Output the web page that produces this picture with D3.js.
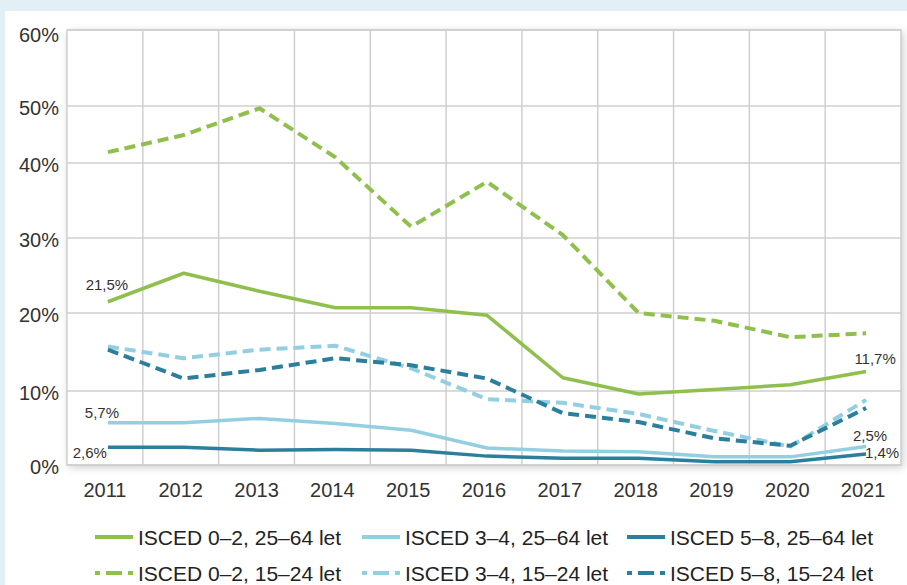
<!DOCTYPE html>
<html>
<head>
<meta charset="utf-8">
<script src="https://cdn.jsdelivr.net/npm/d3@7"></script>
<style>
  body { margin: 0; background: #e2f0f6; }
  svg { display: block; font-family: Arial, "Liberation Sans", sans-serif; }
</style>
</head>
<body>
<svg id="chart" width="907" height="585"></svg>
<script>
// data (%)
var years = [2011, 2012, 2013, 2014, 2015, 2016, 2017, 2018, 2019, 2020, 2021];
var yTicks = [0, 10, 20, 30, 40, 50, 60];

var low2564 = [21.5, 25.3, 22.9, 20.7, 20.7, 19.7, 11.7, 9.6, 10.2, 10.8, 12.5];
var mid2564 = [5.7, 5.7, 6.3, 5.6, 4.7, 2.3, 1.9, 1.8, 1.1, 1.1, 2.5];
var high2564 = [2.4, 2.4, 2.0, 2.1, 2.0, 1.2, 0.9, 0.9, 0.45, 0.45, 1.5];
var low1524 = [41.9, 44.9, 49.6, 41.0, 31.5, 37.5, 30.4, 20.0, 19.0, 16.9, 17.4];
var mid1524 = [15.7, 14.2, 15.3, 15.8, 12.9, 8.9, 8.4, 6.9, 4.6, 2.5, 8.8];
var high1524 = [15.3, 11.6, 12.7, 14.2, 13.3, 11.6, 7.0, 5.8, 3.6, 2.6, 7.7];

var seriesNames = ["ISCED 0–2, 25–64 let", "ISCED 3–4, 25–64 let", "ISCED 5–8, 25–64 let",
                   "ISCED 0–2, 15–24 let", "ISCED 3–4, 15–24 let", "ISCED 5–8, 15–24 let"];

var green = "#8fbf4d", light = "#93cfe1", dark = "#2b7f9d";

var series = [
  { name: seriesNames[0], values: low2564, color: green, dashed: false },
  { name: seriesNames[1], values: mid2564, color: light, dashed: false },
  { name: seriesNames[2], values: high2564, color: dark, dashed: false },
  { name: seriesNames[3], values: low1524, color: green, dashed: true },
  { name: seriesNames[4], values: mid1524, color: light, dashed: true },
  { name: seriesNames[5], values: high1524, color: dark, dashed: true }
];

// value labels: series index, year, text
var notes = [
  { s: 0, year: 2011, text: "21,5%", dx: -1, dy: -17, anchor: "middle" },
  { s: 1, year: 2011, text: "5,7%", dx: -6, dy: -10, anchor: "middle" },
  { s: 2, year: 2011, text: "2,6%", dx: -1, dy: 5, anchor: "end" },
  { s: 0, year: 2021, text: "11,7%", dx: 9, dy: -13, anchor: "middle" },
  { s: 1, year: 2021, text: "2,5%", dx: 4, dy: -11, anchor: "middle" },
  { s: 2, year: 2021, text: "1,4%", dx: 16, dy: -1, anchor: "middle" }
];

var svg = d3.select("#chart");

var defs = svg.append("defs");
var shadow = defs.append("filter").attr("id", "shadow")
  .attr("x", "-5%").attr("y", "-10%").attr("width", "110%").attr("height", "120%");
shadow.append("feDropShadow").attr("dx", 2).attr("dy", 2)
  .attr("stdDeviation", 4).attr("flood-color", "#000").attr("flood-opacity", 0.22);

// white panel on the light blue page
svg.append("rect").attr("x", 5).attr("y", 11).attr("width", 907).attr("height", 585)
  .attr("fill", "#fff");

var plot = { left: 67, right: 901, top: 30, bottom: 465 };

var xBand = d3.scaleBand().domain(years).range([plot.left, plot.right]);
var xPos = d => xBand(d) + xBand.bandwidth() / 2 + 3; // points sit slightly right of the band centre
// the source axis is not evenly spaced (40–50 % band is squeezed), so use a piecewise scale
var y = d3.scaleLinear().domain(yTicks).range([465, 391, 313, 238, 163, 106, 30]);

// plot frame with shadow
svg.append("rect")
  .attr("x", plot.left).attr("y", plot.top)
  .attr("width", plot.right - plot.left).attr("height", plot.bottom - plot.top)
  .attr("fill", "#fff").attr("filter", "url(#shadow)");

var grid = svg.append("g").attr("stroke", "#cfcfcf").attr("stroke-width", 1.5);
grid.selectAll(".hg").data(yTicks).enter().append("line")
  .attr("x1", plot.left).attr("x2", plot.right)
  .attr("y1", d => y(d)).attr("y2", d => y(d));
grid.selectAll(".vg").data(years.slice(1)).enter().append("line")
  .attr("x1", d => xBand(d)).attr("x2", d => xBand(d))
  .attr("y1", plot.top).attr("y2", plot.bottom);
grid.append("rect")
  .attr("x", plot.left).attr("y", plot.top)
  .attr("width", plot.right - plot.left).attr("height", plot.bottom - plot.top)
  .attr("fill", "none");

// y axis labels
svg.append("g").selectAll("text").data(yTicks).enter().append("text")
  .attr("x", 59).attr("y", d => y(d) + (d === 60 ? 5 : 2))
  .attr("text-anchor", "end").attr("dominant-baseline", "central")
  .attr("font-size", 20).attr("fill", "#333")
  .text(d => d + "%");

// x axis labels
svg.append("g").selectAll("text").data(years).enter().append("text")
  .attr("x", d => xBand(d) + xBand.bandwidth() / 2).attr("y", 490)
  .attr("text-anchor", "middle").attr("dominant-baseline", "central")
  .attr("font-size", 20).attr("fill", "#333")
  .text(d => d);

var line = d3.line().x((d, i) => xPos(years[i])).y(d => y(d));

var drawOrder = [3, 4, 5, 0, 1, 2];
svg.append("g").selectAll("path").data(drawOrder.map(i => series[i])).enter().append("path")
  .attr("d", d => line(d.values))
  .attr("fill", "none")
  .attr("stroke", d => d.color)
  .attr("stroke-width", d => d.dashed ? 4 : 3.5)
  .attr("stroke-dasharray", d => d.dashed ? "11,6" : null)
  .attr("stroke-linejoin", "round");

// value labels
svg.append("g").selectAll("text").data(notes).enter().append("text")
  .attr("x", d => xPos(d.year) + d.dx)
  .attr("y", d => y(series[d.s].values[years.indexOf(d.year)]) + d.dy)
  .attr("text-anchor", d => d.anchor).attr("dominant-baseline", "central")
  .attr("font-size", 15).attr("fill", "#333")
  .text(d => d.text);

// legend
var legendCols = [95, 362, 627];
var legendRows = [537, 573];
var legend = svg.append("g").selectAll("g").data(series).enter().append("g")
  .attr("transform", (d, i) => `translate(${legendCols[i % 3]}, ${legendRows[Math.floor(i / 3)]})`);
legend.append("line")
  .attr("x1", 0).attr("x2", 38).attr("y1", 0).attr("y2", 0)
  .attr("stroke", d => d.color).attr("stroke-width", 4)
  .attr("stroke-dasharray", d => d.dashed ? "16,6" : null)
  .attr("stroke-dashoffset", d => d.dashed ? 11 : null);
legend.append("text")
  .attr("x", 43).attr("y", 0).attr("dominant-baseline", "central")
  .attr("font-size", 21).attr("fill", "#222")
  .text(d => d.name);
</script>
</body>
</html>
